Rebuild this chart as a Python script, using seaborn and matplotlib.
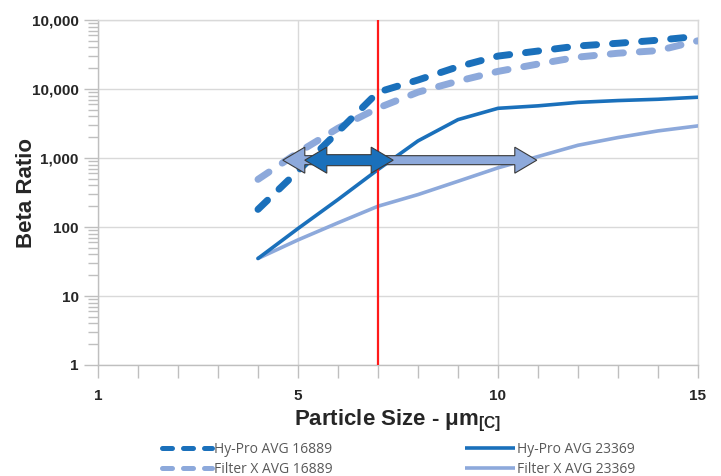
import numpy as np
import pandas as pd
import matplotlib
matplotlib.use("Agg")
import matplotlib.pyplot as plt
import seaborn as sns
from matplotlib.patches import Polygon
from matplotlib.lines import Line2D
from matplotlib.ticker import LogLocator, NullFormatter, FixedLocator
from matplotlib.transforms import IdentityTransform

# ---------------- data ----------------
particle_size = [4, 5, 6, 7, 8, 9, 10, 11, 12, 13, 14, 15]
hypro_16889 = [180, 650, 2400, 9000, 13500, 21000, 30000, 35500, 42000, 46000, 51000, 58000]
filterx_16889 = [490, 1200, 2700, 5300, 9000, 13000, 18000, 23000, 29000, 33000, 36000, 50000]
hypro_23369 = [35, 95, 250, 680, 1770, 3600, 5250, 5700, 6400, 6800, 7100, 7600]
filterx_23369 = [35, 65, 115, 200, 295, 460, 720, 1050, 1530, 1980, 2470, 2920]

series_names = ["Hy-Pro AVG 16889", "Filter X AVG 16889", "Hy-Pro AVG 23369", "Filter X AVG 23369"]

x_tick_positions = [0, 5, 10, 15]
x_tick_labels = ["1", "5", "10", "15"]
y_tick_values = [1, 10, 100, 1000, 10000, 100000]
y_tick_labels = ["1", "10", "100", "1,000", "10,000", "10,000"]

reference_size = 7
arrow_level = 930
light_arrow_span = (4.62, 10.97)
dark_arrow_span = (5.17, 7.38)

# ---------------- style ----------------
sns.set_theme(style="white")
plt.rcParams["font.family"] = ["Liberation Sans", "DejaVu Sans"]
plt.rcParams["mathtext.fontset"] = "custom"
plt.rcParams["mathtext.rm"] = "Liberation Sans"
plt.rcParams["mathtext.bf"] = "Liberation Sans:bold"

DARK = "#1A70BB"
LIGHT = "#8DA9DB"
GRID = "#D9D9D9"
AX = "#BFBFBF"
TXT = "#262626"

fig = plt.figure(figsize=(7.21, 4.76), dpi=100)
ax = fig.add_axes([98 / 721, 111 / 476, 600 / 721, 345 / 476])

df = pd.DataFrame({
    "size": particle_size * 4,
    "beta": hypro_16889 + filterx_16889 + hypro_23369 + filterx_23369,
    "series": sum([[n] * len(particle_size) for n in series_names], []),
})

styles = {
    "Hy-Pro AVG 16889": dict(color=DARK, lw=5.0, dashed=True, z=5),
    "Filter X AVG 16889": dict(color=LIGHT, lw=5.0, dashed=True, z=4),
    "Hy-Pro AVG 23369": dict(color=DARK, lw=2.6, dashed=False, z=5),
    "Filter X AVG 23369": dict(color=LIGHT, lw=2.6, dashed=False, z=4),
}

for name in series_names:
    st = styles[name]
    sub = df[df["series"] == name]
    n_before = len(ax.lines)
    sns.lineplot(data=sub, x="size", y="beta", ax=ax, color=st["color"],
                 linewidth=st["lw"], legend=False, zorder=st["z"])
    line = ax.lines[n_before]
    line.set_label(name)
    if st["dashed"]:
        line.set_dashes([1.9, 2.3])
        line.set_dash_capstyle("round")
    else:
        line.set_solid_capstyle("round")

ax.set_yscale("log")
ax.set_ylim(1, 100000)
ax.set_xlim(0, 15)

ax.axvline(reference_size, color="#FF1A1A", lw=1.6, zorder=6)

# ticks
ax.set_xticks(x_tick_positions)
ax.set_xticklabels(x_tick_labels)
ax.xaxis.set_minor_locator(FixedLocator(range(0, 16)))
ax.set_yticks(y_tick_values)
ax.set_yticklabels(y_tick_labels)
ax.yaxis.set_minor_locator(LogLocator(base=10, subs=np.arange(2, 10)))
ax.yaxis.set_minor_formatter(NullFormatter())

ax.tick_params(axis="both", which="both", direction="out", color=AX, width=1,
               left=True, bottom=True, labelcolor=TXT)
ax.tick_params(axis="y", which="major", length=10, pad=4)
ax.tick_params(axis="y", which="minor", length=7)
ax.tick_params(axis="x", which="major", length=9, pad=8)
ax.tick_params(axis="x", which="minor", length=9)
for lab in ax.get_xticklabels() + ax.get_yticklabels():
    lab.set_fontsize(11)
    lab.set_fontweight("bold")

ax.grid(True, which="major", color=GRID, lw=1)
ax.set_axisbelow(True)
for side in ["left", "bottom"]:
    ax.spines[side].set_color(AX)
for side in ["top", "right"]:
    ax.spines[side].set_color(GRID)
for s in ax.spines.values():
    s.set_linewidth(1)

ax.set_ylabel("Beta Ratio", fontsize=16, fontweight="bold", color=TXT)
ax.yaxis.set_label_coords(-0.102, 0.5)
ax.set_xlabel(r"Particle Size - μm$_{\mathbf{[C]}}$", fontsize=16, fontweight="bold", color=TXT)
ax.xaxis.set_label_coords(0.5, -0.124)


def double_arrow(ax, x0, x1, yv, face, shaft_h, head_h, head_l, z):
    (p0x, py), (p1x, _) = ax.transData.transform([(x0, yv), (x1, yv)])
    sh, hh = shaft_h / 2, head_h / 2
    pts = [(p0x, py), (p0x + head_l, py + hh), (p0x + head_l, py + sh),
           (p1x - head_l, py + sh), (p1x - head_l, py + hh), (p1x, py),
           (p1x - head_l, py - hh), (p1x - head_l, py - sh),
           (p0x + head_l, py - sh), (p0x + head_l, py - hh)]
    poly = Polygon(pts, closed=True, facecolor=face, edgecolor="#3A3A3A",
                   lw=0.8, transform=IdentityTransform(), zorder=z, clip_on=False)
    ax.add_artist(poly)


double_arrow(ax, light_arrow_span[0], light_arrow_span[1], arrow_level, LIGHT, 9, 26, 22, 7)
double_arrow(ax, dark_arrow_span[0], dark_arrow_span[1], arrow_level, DARK, 11, 26, 22, 8)

# legend proxies (legend swatches use a more compact dash pattern)
proxies = []
for name in series_names:
    st = styles[name]
    if st["dashed"]:
        h = Line2D([], [], color=st["color"], lw=3.6, dashes=[2.0, 2.2],
                   dash_capstyle="round")
    else:
        h = Line2D([], [], color=st["color"], lw=2.6, solid_capstyle="butt")
    proxies.append(h)

leg = fig.legend(proxies, series_names, ncol=2,
                 loc="upper left", bbox_to_anchor=(162 / 721, (476 - 442) / 476),
                 frameon=False, prop={"family": "Open Sans", "size": 10},
                 handlelength=3.6, handletextpad=0.15, columnspacing=9.5,
                 labelspacing=0.38, borderpad=0, borderaxespad=0)
for t in leg.get_texts():
    t.set_color("#595959")

fig.savefig("out.png", dpi=100)
